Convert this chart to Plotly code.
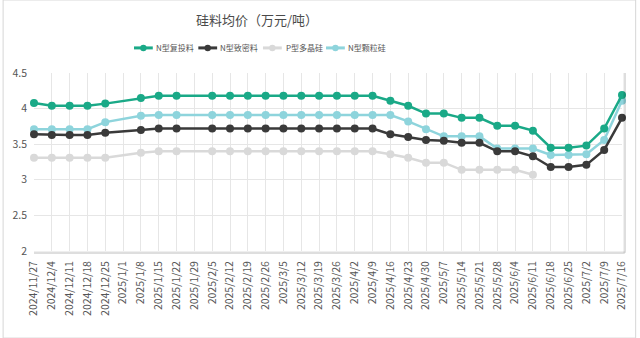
import plotly.graph_objects as go

# Weekly quote dates (no quotes published on 2025/1/1 and 2025/1/29)
dates = ["2024/11/27", "2024/12/4", "2024/12/11", "2024/12/18", "2024/12/25",
         "2025/1/1", "2025/1/8", "2025/1/15", "2025/1/22", "2025/1/29",
         "2025/2/5", "2025/2/12", "2025/2/19", "2025/2/26", "2025/3/5",
         "2025/3/12", "2025/3/19", "2025/3/26", "2025/4/2", "2025/4/9",
         "2025/4/16", "2025/4/23", "2025/4/30", "2025/5/7", "2025/5/14",
         "2025/5/21", "2025/5/28", "2025/6/4", "2025/6/11", "2025/6/18",
         "2025/6/25", "2025/7/2", "2025/7/9", "2025/7/16"]

# Average prices, 10k yuan per tonne
n_recharge = [4.08, 4.04, 4.04, 4.04, 4.07, None, 4.15, 4.18, 4.18, None,
              4.18, 4.18, 4.18, 4.18, 4.18, 4.18, 4.18, 4.18, 4.18, 4.18,
              4.11, 4.04, 3.93, 3.93, 3.87, 3.87, 3.76, 3.76, 3.69, 3.45,
              3.45, 3.48, 3.72, 4.19]
n_dense = [3.64, 3.63, 3.63, 3.63, 3.66, None, 3.70, 3.72, 3.72, None,
           3.72, 3.72, 3.72, 3.72, 3.72, 3.72, 3.72, 3.72, 3.72, 3.72,
           3.64, 3.60, 3.56, 3.55, 3.52, 3.52, 3.40, 3.40, 3.33, 3.18,
           3.18, 3.21, 3.42, 3.87]
p_poly = [3.31, 3.31, 3.31, 3.31, 3.31, None, 3.38, 3.40, 3.40, None,
          3.40, 3.40, 3.40, 3.40, 3.40, 3.40, 3.40, 3.40, 3.40, 3.40,
          3.36, 3.31, 3.24, 3.24, 3.14, 3.14, 3.14, 3.14, 3.07, None,
          None, None, None, None]
n_granular = [3.71, 3.71, 3.71, 3.71, 3.81, None, 3.90, 3.91, 3.91, None,
              3.91, 3.91, 3.91, 3.91, 3.91, 3.91, 3.91, 3.91, 3.91, 3.91,
              3.91, 3.82, 3.71, 3.61, 3.61, 3.61, 3.44, 3.44, 3.44, 3.35,
              3.35, 3.36, 3.56, 4.11]

series = [
    ("N型复投料", n_recharge, "#1aa987"),
    ("N型致密料", n_dense, "#3a3a3a"),
    ("P型多晶硅", p_poly, "#d9d9d9"),
    ("N型颗粒硅", n_granular, "#8ed4dc"),
]

FONT = "Noto Sans CJK SC, Noto Sans, sans-serif"
W, H = 640, 338
L, R, T, B = 31.7, 14.3, 73.3, 87.3
PW, PH = W - L - R, H - T - B


def px_x(px):
    return (px - L) / PW


def px_y(py):
    return (H - B - py) / PH


fig = go.Figure()
# draw the lighter series first so the darker lines sit on top
for name, vals, color in [series[2], series[3], series[1], series[0]]:
    fig.add_trace(go.Scatter(
        x=dates, y=vals, name=name, mode="lines+markers",
        line=dict(color=color, width=2.5),
        marker=dict(color=color, size=8),
        connectgaps=True, cliponaxis=False, showlegend=False,
    ))

shapes = []
annotations = []

# outer frame of the card
shapes.append(dict(type="rect", xref="paper", yref="paper",
                   x0=px_x(0.5), x1=px_x(W - 0.5), y0=px_y(H - 0.5), y1=px_y(0.5),
                   line=dict(color="#d6d6d6", width=1), layer="below"))
# soft shadow along the right and bottom of the plot area
shapes.append(dict(type="line", xref="paper", yref="paper",
                   x0=px_x(628.5), x1=px_x(628.5), y0=px_y(252.5), y1=px_y(T),
                   line=dict(color="rgba(0,0,0,0.13)", width=2.5)))
shapes.append(dict(type="line", xref="paper", yref="paper",
                   x0=px_x(L), x1=px_x(628.5), y0=px_y(252.5), y1=px_y(252.5),
                   line=dict(color="rgba(0,0,0,0.13)", width=2.5)))

# custom legend row
legend_items = [(132.7, 153), (197.7, 218), (263.0, 284), (326.7, 347)]
ly = px_y(48.3)
for (ix, tx), (name, _, color) in zip(legend_items, series):
    shapes.append(dict(type="line", xref="paper", yref="paper",
                       x0=px_x(ix), x1=px_x(ix + 19), y0=ly, y1=ly,
                       line=dict(color=color, width=3)))
    shapes.append(dict(type="circle", xref="paper", yref="paper",
                       x0=px_x(ix + 6.3), x1=px_x(ix + 12.7),
                       y0=px_y(48.3 + 3.2), y1=px_y(48.3 - 3.2),
                       fillcolor=color, line=dict(color=color, width=0)))
    annotations.append(dict(text=name, xref="paper", yref="paper",
                            x=px_x(tx), y=ly, xanchor="left", yanchor="middle",
                            showarrow=False,
                            font=dict(family=FONT, size=8, color="#555555")))

annotations.append(dict(text="硅料均价（万元/吨）", xref="paper", yref="paper",
                        x=px_x(257), y=px_y(20), xanchor="center", yanchor="middle",
                        showarrow=False,
                        font=dict(family=FONT, size=13, color="#4a4a4a")))

fig.update_layout(
    width=W, height=H,
    margin=dict(l=L, r=R, t=T, b=B, pad=0),
    paper_bgcolor="white", plot_bgcolor="white",
    font=dict(family=FONT, size=10, color="#555555"),
    shapes=shapes, annotations=annotations,
    showlegend=False,
)
fig.update_xaxes(
    type="category", categoryorder="array", categoryarray=dates,
    range=[0, len(dates) - 1], tickangle=-90,
    showgrid=True, gridcolor="#e6e6e6", gridwidth=1,
    showline=False, zeroline=False, ticks="",
    ticklabelstandoff=7,
    tickfont=dict(family=FONT, size=10.5, color="#555555"),
)
fig.update_yaxes(
    range=[2, 4.5], dtick=0.5, tick0=2,
    showgrid=True, gridcolor="#e6e6e6", gridwidth=1,
    showline=False, zeroline=False, ticks="",
    ticklabelstandoff=6,
    tickfont=dict(family=FONT, size=10.5, color="#555555"),
)

fig.write_html("out.html")
